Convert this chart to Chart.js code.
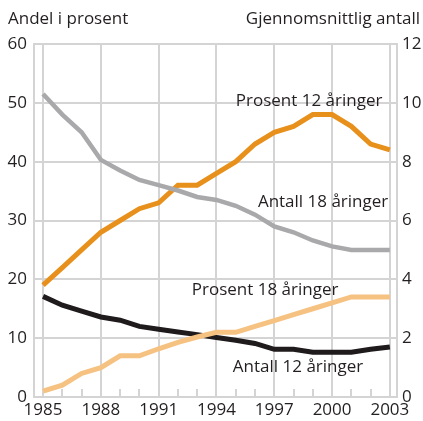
<!DOCTYPE html>
<html>
<head>
<meta charset="utf-8">
<script src="https://cdn.jsdelivr.net/npm/chart.js@4/dist/chart.umd.min.js"></script>
<style>
html,body{margin:0;padding:0;background:#fff;}
#wrap{width:423px;height:421px;position:relative;}
</style>
</head>
<body>
<div id="wrap"><canvas id="c"></canvas></div>
<script>
const years = [1985,1986,1987,1988,1989,1990,1991,1992,1993,1994,1995,1996,1997,1998,1999,2000,2001,2002,2003];
const prosent12 = [19,22,25,28,30,32,33,36,36,38,40,43,45,46,48,48,46,43,42];
const prosent18 = [1,2,4,5,7,7,8.2,9.3,10.2,11,11,12,13,14,15,16,17,17,17];
const antall18 = [10.3,9.6,9.0,8.06,7.7,7.38,7.2,7.02,6.8,6.7,6.5,6.2,5.8,5.6,5.32,5.12,5.0,5.0,5.0];
const antall12 = [3.42,3.12,2.92,2.72,2.61,2.4,2.3,2.21,2.12,2.02,1.93,1.82,1.62,1.62,1.52,1.52,1.52,1.62,1.7];
const xTicks = [1985,1988,1991,1994,1997,2000,2003];
const leftTicks = [0,10,20,30,40,50,60];
const rightTicks = [0,2,4,6,8,10,12];
const leftTitle = 'Andel i prosent';
const rightTitle = 'Gjennomsnittlig antall';
// label anchors: [text, year, left-axis value]
const lineLabels = [
  ['Prosent 12 åringer', 1995.0, 50.3],
  ['Antall 18 åringer', 1996.15, 33.05],
  ['Prosent 18 åringer', 1992.72, 18.1],
  ['Antall 12 åringer', 1994.85, 5.1]
];

const FONT = '"Open Sans", sans-serif';
const TXT = '#231f20';
const GRID = '#d4d4d4';

const pts = arr => years.map((y,i)=>({x:y,y:arr[i]}));

const annot = {
  id:'annot',
  beforeDatasetsDraw(chart){
    const {ctx, scales:{x,y}} = chart;
    ctx.save();
    ctx.strokeStyle = GRID; ctx.lineWidth = 2;
    const b = y.getPixelForValue(0);
    years.forEach(yr=>{
      if (xTicks.includes(yr)) return;
      const px = Math.round(x.getPixelForValue(yr));
      ctx.beginPath(); ctx.moveTo(px, b); ctx.lineTo(px, b-8); ctx.stroke();
    });
    ctx.restore();
  },
  afterDatasetsDraw(chart){
    const {ctx, scales:{x,y}} = chart;
    ctx.save();
    ctx.fillStyle = TXT;
    ctx.font = '17px ' + FONT;
    ctx.textBaseline = 'middle';
    ctx.textAlign = 'left';
    lineLabels.forEach(([t,xv,yv])=>{
      ctx.fillText(t, x.getPixelForValue(xv), y.getPixelForValue(yv));
    });
    ctx.textBaseline = 'alphabetic';
    ctx.fillText(leftTitle, 8, 24);
    ctx.textAlign = 'right';
    ctx.fillText(rightTitle, 420, 24);
    ctx.restore();
  }
};

new Chart(document.getElementById('c'), {
  type:'line',
  data:{
    datasets:[
      {data:pts(antall18), yAxisID:'y2', borderColor:'#a9a9ab', borderWidth:4.5},
      {data:pts(prosent18), yAxisID:'y', borderColor:'#f6c282', borderWidth:5},
      {data:pts(prosent12), yAxisID:'y', borderColor:'#e8901c', borderWidth:5},
      {data:pts(antall12), yAxisID:'y2', borderColor:'#1f1a1b', borderWidth:5}
    ]
  },
  options:{
    responsive:true, maintainAspectRatio:false, animation:false,
    layout:{padding:{top:44, left:0, right:0, bottom:0}},
    elements:{point:{radius:0}, line:{tension:0, borderCapStyle:'butt', borderJoinStyle:'miter'}},
    plugins:{legend:{display:false}, tooltip:{enabled:false}},
    scales:{
      x:{
        type:'linear', min:1984.53, max:2003.37,
        afterBuildTicks(s){ s.ticks = xTicks.map(v=>({value:v})); },
        afterFit(s){ s.height = 24; },
        grid:{color:GRID, lineWidth:2, drawTicks:false},
        border:{color:GRID, width:2},
        ticks:{font:{family:FONT, size:17}, color:TXT, padding:3, maxRotation:0, autoSkip:false, callback:v=>String(v)}
      },
      y:{
        position:'left', min:0, max:60,
        afterBuildTicks(s){ s.ticks = leftTicks.map(v=>({value:v})); },
        afterFit(s){ s.width = 34; },
        grid:{color:GRID, lineWidth:2, drawTicks:false},
        border:{color:GRID, width:2},
        ticks:{font:{family:FONT, size:17}, color:TXT, padding:7}
      },
      y2:{
        position:'right', min:0, max:12,
        afterBuildTicks(s){ s.ticks = rightTicks.map(v=>({value:v})); },
        afterFit(s){ s.width = 26; },
        grid:{drawOnChartArea:false, drawTicks:false},
        border:{color:GRID, width:2},
        ticks:{font:{family:FONT, size:17}, color:TXT, padding:5}
      }
    }
  },
  plugins:[annot]
});
</script>
</body>
</html>
